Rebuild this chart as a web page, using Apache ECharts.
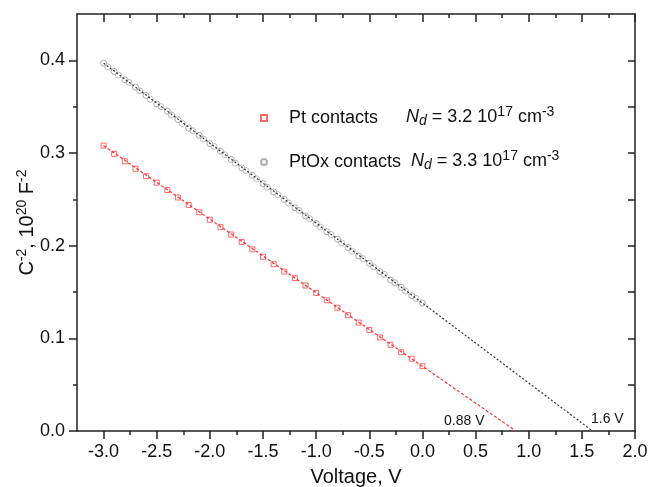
<!DOCTYPE html>
<html>
<head>
<meta charset="utf-8">
<script src="https://cdn.jsdelivr.net/npm/echarts@6/dist/echarts.min.js"></script>
<style>
  html, body { margin: 0; padding: 0; background: #fff; }
  #chart { width: 651px; height: 487px; }
</style>
</head>
<body>
<div id="chart"></div>
<script>
// Pt contacts, C^-2 vs voltage
const ptV = [-3.0, -2.9, -2.8, -2.7, -2.6, -2.5, -2.4, -2.3, -2.2, -2.1, -2.0, -1.9, -1.8, -1.7, -1.6, -1.5,
  -1.4, -1.3, -1.2, -1.1, -1.0, -0.9, -0.8, -0.7, -0.6, -0.5, -0.4, -0.3, -0.2, -0.1, 0.0];
const ptC = [0.308, 0.299, 0.291, 0.283, 0.275, 0.268, 0.260, 0.252, 0.244, 0.236, 0.228, 0.220, 0.212, 0.204, 0.196, 0.188,
  0.180, 0.172, 0.165, 0.157, 0.149, 0.141, 0.133, 0.125, 0.117, 0.109, 0.101, 0.093, 0.085, 0.078, 0.070];

// PtOx contacts, two sweeps
const ptoxV = [-3.0, -2.9, -2.8, -2.7, -2.6, -2.5, -2.4, -2.3, -2.2, -2.1, -2.0, -1.9, -1.8, -1.7, -1.6, -1.5,
  -1.4, -1.3, -1.2, -1.1, -1.0, -0.9, -0.8, -0.7, -0.6, -0.5, -0.4, -0.3, -0.2, -0.1, 0.0];
const ptoxC = [0.397, 0.388, 0.379, 0.371, 0.362, 0.353, 0.345, 0.336, 0.327, 0.319, 0.310, 0.302, 0.293, 0.284, 0.276, 0.267,
  0.258, 0.250, 0.241, 0.232, 0.224, 0.215, 0.207, 0.198, 0.189, 0.181, 0.172, 0.163, 0.155, 0.146, 0.138];
const ptoxV2 = [-2.96, -2.86, -2.76, -2.66, -2.56, -2.46, -2.36, -2.26, -2.16, -2.06, -1.96, -1.86, -1.76, -1.66, -1.56,
  -1.46, -1.36, -1.26, -1.16, -1.06, -0.96, -0.86, -0.76, -0.66, -0.56, -0.46, -0.36, -0.26, -0.16, -0.06];
const ptoxC2 = [0.393, 0.384, 0.376, 0.367, 0.358, 0.350, 0.341, 0.332, 0.324, 0.315, 0.307, 0.298, 0.289, 0.281, 0.272,
  0.263, 0.255, 0.246, 0.238, 0.229, 0.220, 0.212, 0.203, 0.194, 0.186, 0.177, 0.169, 0.160, 0.151, 0.143];

// linear fits extrapolated to C^-2 = 0
const ptFitV = [-3.0, 0.88];
const ptFitC = [0.308, 0.0];
const ptoxFitV = [-3.0, 1.6];
const ptoxFitC = [0.397, 0.0];

// ticks
const xMajor = [-3.0, -2.5, -2.0, -1.5, -1.0, -0.5, 0.0, 0.5, 1.0, 1.5, 2.0];
const xMinor = [-2.75, -2.25, -1.75, -1.25, -0.75, -0.25, 0.25, 0.75, 1.25, 1.75];
const yMajor = [0.0, 0.1, 0.2, 0.3, 0.4];
const yMinor = [0.05, 0.15, 0.25, 0.35];
const yRight = [0.05, 0.1, 0.15, 0.2, 0.25, 0.3, 0.35, 0.4];

const zip = (a, b) => a.map((v, i) => [v, b[i]]);

const FONT = '"Liberation Sans", Arial, sans-serif';
const AX = { color: '#222', width: 1.5 };
const gridBox = { left: 77, right: 16, top: 14, bottom: 56, containLabel: false, outerBoundsMode: 'none' };

const ndRich = {
    i: { fontSize: 18, fontStyle: 'italic', fill: '#111', fontFamily: FONT },
    sub: { fontSize: 14, fontStyle: 'italic', fill: '#111', fontFamily: FONT, padding: [9, 0, 0, 0] },
    a: { fontSize: 18, fill: '#111', fontFamily: FONT },
    sup: { fontSize: 14, fill: '#111', fontFamily: FONT, padding: [0, 0, 10, 0] }
};

let chart = echarts.init(document.getElementById('chart'));
const option = {
    animation: false,
    backgroundColor: '#fff',
    textStyle: { fontFamily: FONT },
    grid: [
        Object.assign({}, gridBox),
        Object.assign({}, gridBox)
    ],
    legend: {
        orient: 'vertical',
        left: 260,
        top: 108,
        padding: 0,
        itemWidth: 6,
        itemHeight: 6,
        itemGap: 24,
        data: ['Pt contacts', 'PtOx contacts'],
        textStyle: { fontSize: 18, color: '#111', fontFamily: FONT, padding: [0, 0, 0, 17], lineHeight: 20 }
    },
    xAxis: [
        {
            type: 'value', gridIndex: 0, position: 'bottom', min: -3.25, max: 2,
            axisLine: { show: true, onZero: false, lineStyle: AX },
            axisTick: { show: true, customValues: xMajor, length: 8, lineStyle: AX },
            axisLabel: { customValues: xMajor, fontSize: 18, color: '#111', margin: 12, formatter: v => v.toFixed(1) },
            splitLine: { show: false },
            name: 'Voltage, V', nameLocation: 'middle', nameGap: 36,
            nameTextStyle: { fontSize: 20, color: '#111' }
        },
        {
            type: 'value', gridIndex: 0, position: 'top', min: -3.25, max: 2,
            axisLine: { show: true, onZero: false, lineStyle: AX },
            axisTick: { show: true, inside: true, customValues: xMajor, length: 8, lineStyle: AX },
            axisLabel: { show: false },
            splitLine: { show: false }
        },
        {
            type: 'value', gridIndex: 1, position: 'bottom', min: -3.25, max: 2,
            axisLine: { show: false, onZero: false },
            axisTick: { show: true, customValues: xMinor, length: 4, lineStyle: AX },
            axisLabel: { show: false },
            splitLine: { show: false }
        },
        {
            type: 'value', gridIndex: 1, position: 'top', min: -3.25, max: 2,
            axisLine: { show: false, onZero: false },
            axisTick: { show: true, inside: true, customValues: xMinor, length: 4, lineStyle: AX },
            axisLabel: { show: false },
            splitLine: { show: false }
        }
    ],
    yAxis: [
        {
            type: 'value', gridIndex: 0, position: 'left', min: 0, max: 0.45,
            axisLine: { show: true, onZero: false, lineStyle: AX },
            axisTick: { show: true, customValues: yMajor, length: 8, lineStyle: AX },
            axisLabel: { customValues: yMajor, fontSize: 18, color: '#111', margin: 12, formatter: v => v.toFixed(1) },
            splitLine: { show: false },
            name: '{a|C}{s|-2}{a|, 10}{s|20}{a| F}{s|-2}',
            nameLocation: 'middle', nameGap: 38, nameRotate: 90, nameMoveOverlap: false,
            nameTextStyle: {
                rich: {
                    a: { fontSize: 20, color: '#111', fontFamily: FONT },
                    s: { fontSize: 14, color: '#111', fontFamily: FONT, padding: [0, 0, 10, 0] }
                }
            }
        },
        {
            type: 'value', gridIndex: 0, position: 'right', min: 0, max: 0.45,
            axisLine: { show: true, onZero: false, lineStyle: AX },
            axisTick: { show: true, inside: true, customValues: yRight, length: 7, lineStyle: AX },
            axisLabel: { show: false },
            splitLine: { show: false }
        },
        {
            type: 'value', gridIndex: 1, position: 'left', min: 0, max: 0.45,
            axisLine: { show: false, onZero: false },
            axisTick: { show: true, customValues: yMinor, length: 4, lineStyle: AX },
            axisLabel: { show: false },
            splitLine: { show: false }
        }
    ],
    series: [
        {
            name: 'Pt fit', type: 'line', xAxisIndex: 0, yAxisIndex: 0,
            data: zip(ptFitV, ptFitC), symbol: 'none', silent: true,
            lineStyle: { color: '#ff3030', width: 1.2, type: [3, 2] }
        },
        {
            name: 'PtOx fit', type: 'line', xAxisIndex: 0, yAxisIndex: 0,
            data: zip(ptoxFitV, ptoxFitC), symbol: 'none', silent: true,
            lineStyle: { color: '#333', width: 1.2, type: [2, 2] }
        },
        {
            name: 'Pt contacts', type: 'scatter', xAxisIndex: 0, yAxisIndex: 0,
            data: zip(ptV, ptC), symbol: 'rect', symbolSize: 5,
            itemStyle: { color: 'rgba(255,255,255,0)', borderColor: '#ff4545', borderWidth: 1 }
        },
        {
            name: 'PtOx contacts', type: 'scatter', xAxisIndex: 0, yAxisIndex: 0,
            data: zip(ptoxV, ptoxC), symbol: 'circle', symbolSize: 6,
            itemStyle: { color: 'rgba(255,255,255,0)', borderColor: '#999', borderWidth: 1 }
        },
        {
            name: 'PtOx sweep 2', type: 'scatter', xAxisIndex: 0, yAxisIndex: 0,
            data: zip(ptoxV2, ptoxC2), symbol: 'circle', symbolSize: 6,
            itemStyle: { color: 'rgba(255,255,255,0)', borderColor: '#aaa', borderWidth: 1 }
        }
    ],
    graphic: [
        {
            type: 'text', left: 406, top: 105,
            style: { text: '{i|N}{sub|d}{a| = 3.2 10}{sup|17}{a| cm}{sup|-3}', rich: ndRich }
        },
        {
            type: 'text', left: 411, top: 149,
            style: { text: '{i|N}{sub|d}{a| = 3.3 10}{sup|17}{a| cm}{sup|-3}', rich: ndRich }
        },
        {
            type: 'text', left: 444, top: 414,
            style: { text: '0.88 V', fontSize: 14, fill: '#111', fontFamily: FONT }
        },
        {
            type: 'text', left: 591, top: 412,
            style: { text: '1.6 V', fontSize: 14, fill: '#111', fontFamily: FONT }
        }
    ]
};

chart.setOption(option);

window.addEventListener('resize', function () {
    chart.resize();
});
</script>
</body>
</html>
